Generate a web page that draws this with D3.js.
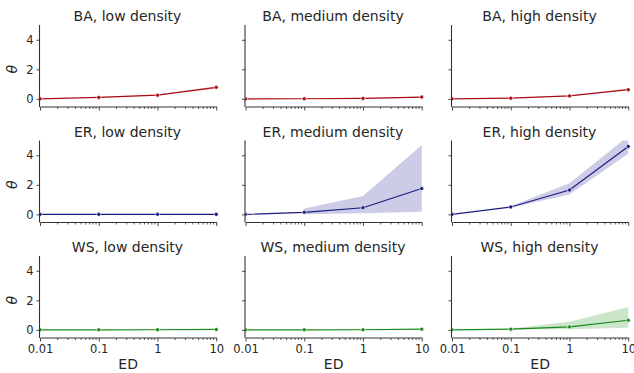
<!DOCTYPE html>
<html>
<head>
<meta charset="utf-8">
<script src="https://cdn.jsdelivr.net/npm/d3@7"></script>
<style>
  body { margin: 0; background: #fff; }
  text { font-family: "DejaVu Sans", sans-serif; }
</style>
</head>
<body>
<div id="chart"></div>
<script>
// x values (ED) shared by every panel
const edValues = [0.01, 0.1, 1, 10];
const xTickLabels = ["0.01", "0.1", "1", "10"];
const yTicks = [0, 2, 4];

const networks = ["BA", "ER", "WS"];
const densities = ["low", "medium", "high"];

// mean theta per panel, row = network, col = density
const baMean = [[0, 0.1, 0.25, 0.78], [0, 0.01, 0.03, 0.12], [0, 0.05, 0.2, 0.62]];
const baLow  = [[null, 0.08, 0.22, 0.68], [null, 0.0, 0.01, 0.08], [null, 0.04, 0.17, 0.56]];
const baHigh = [[null, 0.12, 0.29, 0.86], [null, 0.02, 0.05, 0.16], [null, 0.06, 0.23, 0.68]];

const erMean = [[0, 0, 0, 0], [0, 0.14, 0.45, 1.75], [0, 0.5, 1.65, 4.6]];
const erLow  = [[null, 0, 0, 0], [null, 0.0, 0.07, 0.18], [null, 0.45, 1.35, 4.1]];
const erHigh = [[null, 0.01, 0.01, 0.02], [null, 0.4, 1.25, 4.7], [null, 0.55, 2.1, 5.3]];

const wsMean = [[0, 0, 0.01, 0.03], [0, 0, 0.01, 0.05], [0, 0.05, 0.2, 0.65]];
const wsLow  = [[null, 0, 0, 0.01], [null, 0, 0, 0.03], [null, 0.02, 0.05, 0.15]];
const wsHigh = [[null, 0.01, 0.02, 0.05], [null, 0.01, 0.02, 0.08], [null, 0.1, 0.55, 1.55]];

const seriesData = {
  BA: {mean: baMean, lo: baLow, hi: baHigh, line: "#a80d15", band: "rgba(210,40,50,0.22)"},
  ER: {mean: erMean, lo: erLow, hi: erHigh, line: "#1a1a80", band: "rgba(0,0,128,0.2)"},
  WS: {mean: wsMean, lo: wsLow, hi: wsHigh, line: "#168a16", band: "rgba(0,128,0,0.2)"}
};

const width = 634, height = 373;
const colLeft = [40, 245.5, 452];
const rowTop = [25, 140.5, 256];
const pw = 177, ph = 82;

const svg = d3.select("#chart").append("svg")
  .attr("width", width)
  .attr("height", height);

const x = d3.scaleLog().domain([0.01, 10.3]).range([0, pw]);
const y = d3.scaleLinear().domain([-0.55, 5]).range([ph, 0]);

function drawPanel(r, c) {
  const net = networks[r],
        s = seriesData[net],
        g = svg.append("g").attr("transform", "translate(" + colLeft[c] + "," + rowTop[r] + ")");

  const clipId = "clip_" + r + "_" + c;
  g.append("clipPath").attr("id", clipId)
    .append("rect").attr("x", 0).attr("y", 0).attr("width", pw + 4).attr("height", ph);

  const pts = edValues.map(function(v, i){
    return {x: v, m: s.mean[c][i], lo: s.lo[c][i], hi: s.hi[c][i]};
  });

  const plot = g.append("g").attr("clip-path", "url(#" + clipId + ")");

  // confidence band
  const area = d3.area()
    .defined(function(d){ return d.lo !== null; })
    .x(function(d){ return x(d.x); })
    .y0(function(d){ return y(d.lo); })
    .y1(function(d){ return y(d.hi); });
  plot.append("path").datum(pts)
    .attr("d", area)
    .attr("fill", s.band);

  const line = d3.line()
    .x(function(d){ return x(d.x); })
    .y(function(d){ return y(d.m); });
  plot.append("path").datum(pts)
    .attr("d", line)
    .attr("fill", "none")
    .attr("stroke", s.line)
    .attr("stroke-width", 1.2);

  plot.selectAll(".pt").data(pts)
    .enter().append("circle")
    .attr("class", "pt")
    .attr("cx", function(d){ return x(d.x); })
    .attr("cy", function(d){ return y(d.m); })
    .attr("r", 2)
    .attr("fill", s.line)
    .attr("stroke", "#fff")
    .attr("stroke-width", 0.6);

  // axes
  const xAxis = d3.axisBottom(x)
    .tickValues(edValues)
    .tickSize(3.5)
    .tickFormat(function(d, i){ return r === 2 ? xTickLabels[i] : ""; });
  const xa = g.append("g").attr("transform", "translate(0," + ph + ")").call(xAxis);

  // minor log ticks
  let minor = [];
  for (let dec = 0.01; dec < 10; dec *= 10) {
    for (let k = 2; k <= 9; k++) minor.push(dec * k);
  }
  xa.selectAll(".minor").data(minor)
    .enter().append("line")
    .attr("class", "minor")
    .attr("x1", function(d){ return x(d); })
    .attr("x2", function(d){ return x(d); })
    .attr("y1", 0).attr("y2", 2)
    .attr("stroke", "#333").attr("stroke-width", 0.8);

  const yAxis = d3.axisLeft(y)
    .tickValues(yTicks)
    .tickSize(3.5)
    .tickFormat(function(d){ return c === 0 ? d : ""; });
  const ya = g.append("g").call(yAxis);

  [xa, ya].forEach(function(a){
    a.select(".domain").attr("stroke", "#333").attr("stroke-width", 1.1);
    a.selectAll(".tick line").attr("stroke", "#333").attr("stroke-width", 0.9);
    a.selectAll(".tick text").attr("fill", "#262626").style("font-size", "11.5px").attr("font-family", "DejaVu Sans");
  });
  // remove end caps from the axis paths
  xa.select(".domain").attr("d", "M0.5,0H" + pw);
  ya.select(".domain").attr("d", "M-0.5," + ph + "V0");

  g.append("text")
    .attr("x", pw / 2 - 1)
    .attr("y", -4)
    .attr("text-anchor", "middle")
    .attr("fill", "#262626")
    .style("font-size", "14px")
    .text(net + ", " + densities[c] + " density");

  if (c === 0) {
    g.append("text")
      .attr("transform", "translate(-23," + y(2) + ") rotate(-90)")
      .attr("text-anchor", "middle")
      .attr("fill", "#262626")
      .style("font-size", "14px")
      .style("font-style", "italic")
      .text("θ");
  }
  if (r === 2) {
    g.append("text")
      .attr("x", x(0.1 * Math.sqrt(10)))
      .attr("y", ph + 31)
      .attr("text-anchor", "middle")
      .attr("fill", "#262626")
      .style("font-size", "14px")
      .text("ED");
  }
}

for (let r = 0; r < 3; r++) {
  for (let c = 0; c < 3; c++) drawPanel(r, c);
}
</script>
</body>
</html>
